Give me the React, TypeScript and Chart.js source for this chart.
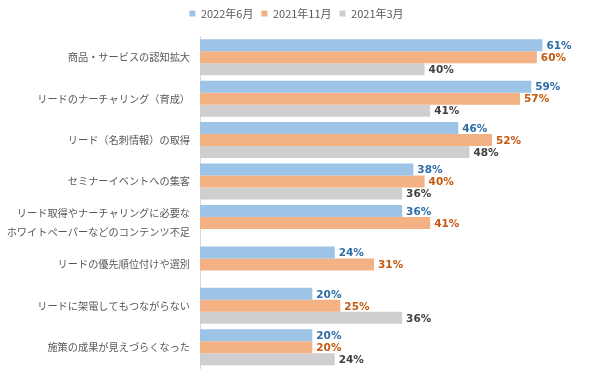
import React, { useEffect, useRef } from "react";
import { Chart, registerables } from "chart.js";

Chart.register(...registerables);

const categories: (string | string[])[] = [
  "商品・サービスの認知拡大",
  "リードのナーチャリング（育成）",
  "リード（名刺情報）の取得",
  "セミナーイベントへの集客",
  ["リード取得やナーチャリングに必要な", "ホワイトペーパーなどのコンテンツ不足"],
  "リードの優先順位付けや選別",
  "リードに架電してもつながらない",
  "施策の成果が見えづらくなった",
];

const seriesNames = ["2022年6月", "2021年11月", "2021年3月"];
const jun2022: (number | null)[] = [61, 59, 46, 38, 36, 24, 20, 20];
const nov2021: (number | null)[] = [60, 57, 52, 40, 41, 31, 25, 20];
const mar2021: (number | null)[] = [40, 41, 48, 36, null, null, 36, 24];

const barColors = ["#9DC3E6", "#F4B183", "#D0CECE"];
const labelColors = ["#2E6DA8", "#C55A11", "#3F3F3F"];

const legendHeightPlugin = {
  id: "legendHeight",
  afterInit(chart: any) {
    const lg = chart.legend;
    if (!lg) return;
    const orig = lg.fit;
    lg.fit = function () {
      orig.call(this);
      this.height += 7.5;
    };
  },
};

const dataLabelPlugin = {
  id: "dataLabels",
  afterDatasetsDraw(chart: any) {
    const ctx = chart.ctx;
    ctx.save();
    ctx.font = "bold 10.5px 'DejaVu Sans', Verdana, sans-serif";
    ctx.textBaseline = "middle";
    ctx.textAlign = "left";
    chart.data.datasets.forEach((ds: any, di: number) => {
      const meta = chart.getDatasetMeta(di);
      meta.data.forEach((el: any, i: number) => {
        const v = ds.data[i];
        if (v === null || v === undefined) return;
        ctx.fillStyle = labelColors[di];
        ctx.fillText(v + "%", el.x + 4, el.y + 1);
      });
    });
    ctx.restore();
  },
};

export default function App() {
  const ref = useRef<HTMLCanvasElement>(null);
  useEffect(() => {
    if (!ref.current) return;
    const chart = new Chart(ref.current, {
      type: "bar",
      data: {
        labels: categories,
        datasets: [jun2022, nov2021, mar2021].map((d, i) => ({
          label: seriesNames[i],
          data: d,
          backgroundColor: barColors[i],
          borderWidth: 0,
          categoryPercentage: 0.87,
          barPercentage: 1.0,
        })),
      },
      options: {
        indexAxis: "y",
        responsive: false,
        animation: false,
        layout: { padding: { left: 0, right: 7, top: 0, bottom: 9 } },
        plugins: {
          legend: {
            position: "top",
            labels: {
              boxWidth: 6,
              boxHeight: 6,
              padding: 8,
              color: "#595959",
              font: { size: 11, family: "'Noto Sans CJK JP', sans-serif" },
            },
          },
          tooltip: { enabled: false },
        },
        scales: {
          x: {
            display: false,
            min: 0,
            max: 70,
          },
          y: {
            afterFit: (s: any) => {
              s.width = 200;
              s.paddingTop = 0;
              s.paddingBottom = 0;
            },
            grid: { display: false, drawTicks: false },
            border: { display: true, color: "#D9D9D9", width: 1 },
            ticks: {
              color: "#595959",
              padding: 10,
              font: { size: 10.2, family: "'Noto Sans CJK JP', sans-serif", lineHeight: 1.85 },
            },
          },
        },
      },
      plugins: [legendHeightPlugin, dataLabelPlugin],
    } as any);
    return () => chart.destroy();
  }, []);
  return (
    <div style={{ position: "absolute", left: 0, top: 0, width: 600, height: 377, background: "#fff" }}>
      <canvas ref={ref} width={600} height={377} />
    </div>
  );
}
